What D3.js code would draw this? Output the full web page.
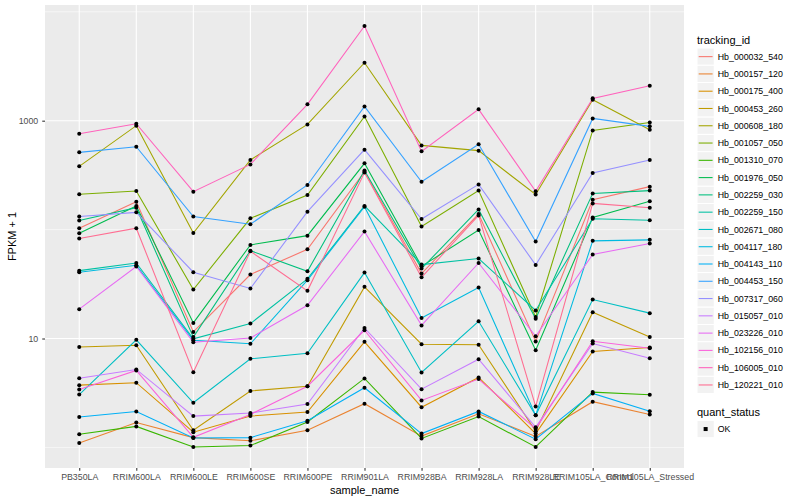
<!DOCTYPE html>
<html>
<head>
<meta charset="utf-8">
<script src="https://cdn.jsdelivr.net/npm/d3@7"></script>
<style>
  body { margin: 0; background: #fff; }
  text { font-family: "Liberation Sans", Arial, sans-serif; }
</style>
</head>
<body>
<script>
// data (FPKM + 1)

var samples = ["PB350LA", "RRIM600LA", "RRIM600LE", "RRIM600SE", "RRIM600PE", "RRIM901LA",
  "RRIM928BA", "RRIM928LA", "RRIM928LE", "RRIM105LA_Control", "RRIM105LA_Stressed"];

var trackingIds = ["Hb_000032_540", "Hb_000157_120", "Hb_000175_400", "Hb_000453_260", "Hb_000608_180",
  "Hb_001057_050", "Hb_001310_070", "Hb_001976_050", "Hb_002259_030", "Hb_002259_150",
  "Hb_002671_080", "Hb_004117_180", "Hb_004143_110", "Hb_004453_150", "Hb_007317_060",
  "Hb_015057_010", "Hb_023226_010", "Hb_102156_010", "Hb_106005_010", "Hb_120221_010"];

var hb_000032_540 = [103, 180, 11.5, 38.7, 65.9, 340, 39.5, 139, 9.4, 188, 248];
var hb_000157_120 = [1.10, 1.69, 1.23, 1.15, 1.44, 2.52, 1.27, 2.04, 1.26, 2.63, 2.01];
var hb_000175_400 = [3.73, 3.93, 1.38, 1.94, 2.11, 9.33, 2.34, 4.39, 1.34, 7.6, 8.27];
var hb_000453_260 = [8.36, 8.68, 1.44, 3.30, 3.65, 29.8, 8.87, 8.75, 1.41, 17.4, 10.3];
var hb_000608_180 = [381, 900, 93, 436, 925, 3405, 593, 531, 210, 1560, 826];
var hb_001057_050 = [211, 226, 28.2, 127, 208, 1094, 107, 228, 15.8, 814, 964];
var hb_001310_070 = [1.32, 1.56, 1.01, 1.04, 1.71, 4.30, 1.21, 1.92, 1.01, 3.22, 3.04];
var hb_001976_050 = [92.5, 165, 13.9, 72.4, 88, 406, 46, 99, 7.81, 129, 182];
var hb_002259_030 = [121, 159, 10.3, 64.1, 41.4, 349, 43.9, 153, 15.2, 215, 228];
var hb_002259_150 = [42, 49.4, 9.94, 13.7, 35.3, 165, 47.7, 54.2, 18.1, 126, 122];
var hb_002671_080 = [3.06, 9.73, 2.57, 6.51, 7.33, 40.3, 4.88, 14.4, 1.97, 22.8, 17.1];
var hb_004117_180 = [40.6, 47, 9.64, 8.94, 34.3, 162, 15.4, 29.4, 1.97, 78.8, 80.5];
var hb_004143_110 = [1.90, 2.14, 1.22, 1.23, 1.76, 3.53, 1.34, 2.14, 1.19, 3.13, 2.15];
var hb_004453_150 = [512, 577, 132, 112, 257, 1353, 275, 607, 77.6, 1049, 887];
var hb_007317_060 = [132, 144, 40.6, 28.8, 146, 542, 125, 260, 47.4, 331, 436];
var hb_015057_010 = [4.32, 5.20, 1.94, 2.07, 2.50, 12.5, 3.43, 6.46, 1.53, 9.0, 6.60];
var hb_023226_010 = [18.6, 45.8, 9.25, 10.1, 20.2, 96, 13.2, 49.4, 10.5, 59, 74.4];
var hb_102156_010 = [3.41, 5.09, 1.24, 2.01, 3.65, 11.9, 2.70, 4.24, 1.48, 9.44, 8.15];
var hb_106005_010 = [760, 938, 223, 397, 1413, 7396, 523, 1271, 225, 1603, 2094];
var hb_120221_010 = [83, 103, 4.91, 63.2, 27.4, 334, 36.5, 135, 2.38, 174, 159];

var seriesValues = [hb_000032_540, hb_000157_120, hb_000175_400, hb_000453_260, hb_000608_180,
  hb_001057_050, hb_001310_070, hb_001976_050, hb_002259_030, hb_002259_150,
  hb_002671_080, hb_004117_180, hb_004143_110, hb_004453_150, hb_007317_060,
  hb_015057_010, hb_023226_010, hb_102156_010, hb_106005_010, hb_120221_010];

var majorTicks = [10, 1000];
var minorTicks = [1, 100, 10000];
var statusLevels = ["OK"];

// ggplot hue palette, 20 levels
var palette = ["#F8766D", "#EA8331", "#D89000", "#C09B00", "#A3A500", "#7CAE00", "#39B600", "#00BB4E",
  "#00BF7D", "#00C1A3", "#00BFC4", "#00BAE0", "#00B0F6", "#35A2FF", "#9590FF", "#C77CFF",
  "#E76BF3", "#FA62DB", "#FF62BC", "#FF6C91"];

var series = trackingIds.map((id, i) => {
  return {
    id: id,
    values: seriesValues[i].map((v, j) => ({sample: samples[j], value: v}))
  };
});

// svg set up
var W = 800, H = 500;
var panel = {left: 45, right: 684, top: 5, bottom: 468};

let svg = d3.select("body").append("svg")
  .attr("width", W)
  .attr("height", H);

var x = d3.scalePoint()
  .domain(samples)
  .range([panel.left, panel.right])
  .padding(0.6);

// log scale with ggplot's 5% expansion
var allVals = seriesValues.flat();
var lo = Math.log10(d3.min(allVals)), hi = Math.log10(d3.max(allVals));
var pad = (hi - lo) * 0.05;
var y = d3.scaleLog()
  .domain([Math.pow(10, lo - pad), Math.pow(10, hi + pad)])
  .range([panel.bottom, panel.top]);

var color = d3.scaleOrdinal().domain(trackingIds).range(palette);

// panel background + grid
svg.append("rect")
  .attr("x", panel.left).attr("y", panel.top)
  .attr("width", panel.right - panel.left)
  .attr("height", panel.bottom - panel.top)
  .attr("fill", "#EBEBEB");

let grid = svg.append("g");
grid.selectAll(".minor")
  .data(minorTicks)
  .enter().append("line")
  .attr("x1", panel.left).attr("x2", panel.right)
  .attr("y1", d => y(d)).attr("y2", d => y(d))
  .attr("stroke", "#fff").attr("stroke-width", 0.55);
grid.selectAll(".major")
  .data(majorTicks)
  .enter().append("line")
  .attr("x1", panel.left).attr("x2", panel.right)
  .attr("y1", d => y(d)).attr("y2", d => y(d))
  .attr("stroke", "#fff").attr("stroke-width", 1.1);
grid.selectAll(".vx")
  .data(samples)
  .enter().append("line")
  .attr("x1", d => x(d)).attr("x2", d => x(d))
  .attr("y1", panel.top).attr("y2", panel.bottom)
  .attr("stroke", "#fff").attr("stroke-width", 1.1);

// axes
let yAxis = svg.append("g")
  .attr("transform", "translate(" + panel.left + ",0)")
  .call(d3.axisLeft(y).tickValues(majorTicks).tickFormat(d3.format("d")).tickSize(2.75).tickPadding(4));
let xAxis = svg.append("g")
  .attr("transform", "translate(0," + panel.bottom + ")")
  .call(d3.axisBottom(x).tickSize(2.75).tickPadding(3));

[yAxis, xAxis].forEach(a => {
  a.select(".domain").remove();
  a.selectAll(".tick line").attr("stroke", "#333333").attr("stroke-width", 1.07);
  a.selectAll(".tick text")
    .attr("fill", "#4D4D4D")
    .style("font-size", "8.8px")
    .style("font-family", "'Liberation Sans', Arial, sans-serif");
});

svg.append("text")
  .attr("x", (panel.left + panel.right) / 2)
  .attr("y", 494)
  .attr("text-anchor", "middle")
  .style("font-size", "11px")
  .text("sample_name");

svg.append("text")
  .attr("transform", "translate(16," + ((panel.top + panel.bottom) / 2) + ") rotate(-90)")
  .attr("text-anchor", "middle")
  .style("font-size", "11px")
  .text("FPKM + 1");

// lines
var line = d3.line()
  .x(d => x(d.sample))
  .y(d => y(d.value));

svg.append("g")
  .selectAll("path")
  .data(series)
  .enter()
  .append("path")
  .attr("d", d => line(d.values))
  .attr("fill", "none")
  .attr("stroke", d => color(d.id))
  .attr("stroke-width", 1.07);

// points
svg.append("g")
  .selectAll("g")
  .data(series)
  .enter()
  .append("g")
  .selectAll("circle")
  .data(d => d.values)
  .enter()
  .append("circle")
  .attr("cx", d => x(d.sample))
  .attr("cy", d => y(d.value))
  .attr("r", 2)
  .attr("fill", "#000");

// legend
var keySize = 17.28;
var lx = 697;
let legend = svg.append("g");

legend.append("text")
  .attr("x", lx).attr("y", 44)
  .style("font-size", "11px")
  .text("tracking_id");

let keys = legend.selectAll(".key")
  .data(trackingIds)
  .enter()
  .append("g")
  .attr("transform", (d, i) => "translate(" + lx + "," + (48 + i * keySize) + ")");

keys.append("rect")
  .attr("width", keySize).attr("height", keySize)
  .attr("fill", "#F2F2F2").attr("stroke", "#fff").attr("stroke-width", 1);
keys.append("line")
  .attr("x1", 1.7).attr("x2", keySize - 1.7)
  .attr("y1", keySize / 2).attr("y2", keySize / 2)
  .attr("stroke", d => color(d)).attr("stroke-width", 1.07);
keys.append("text")
  .attr("x", keySize + 3.5).attr("y", keySize / 2 + 3.1)
  .style("font-size", "8.8px")
  .text(d => d);

legend.append("text")
  .attr("x", lx).attr("y", 416)
  .style("font-size", "11px")
  .text("quant_status");

let skeys = legend.selectAll(".skey")
  .data(statusLevels)
  .enter()
  .append("g")
  .attr("transform", (d, i) => "translate(" + lx + "," + (420.4 + i * keySize) + ")");

skeys.append("rect")
  .attr("width", keySize).attr("height", keySize)
  .attr("fill", "#F2F2F2").attr("stroke", "#fff").attr("stroke-width", 1);
skeys.append("rect")
  .attr("x", keySize / 2 - 2).attr("y", keySize / 2 - 2)
  .attr("width", 4).attr("height", 4)
  .attr("fill", "#000");
skeys.append("text")
  .attr("x", keySize + 3.5).attr("y", keySize / 2 + 3.1)
  .style("font-size", "8.8px")
  .text(d => d);
</script>
</body>
</html>
